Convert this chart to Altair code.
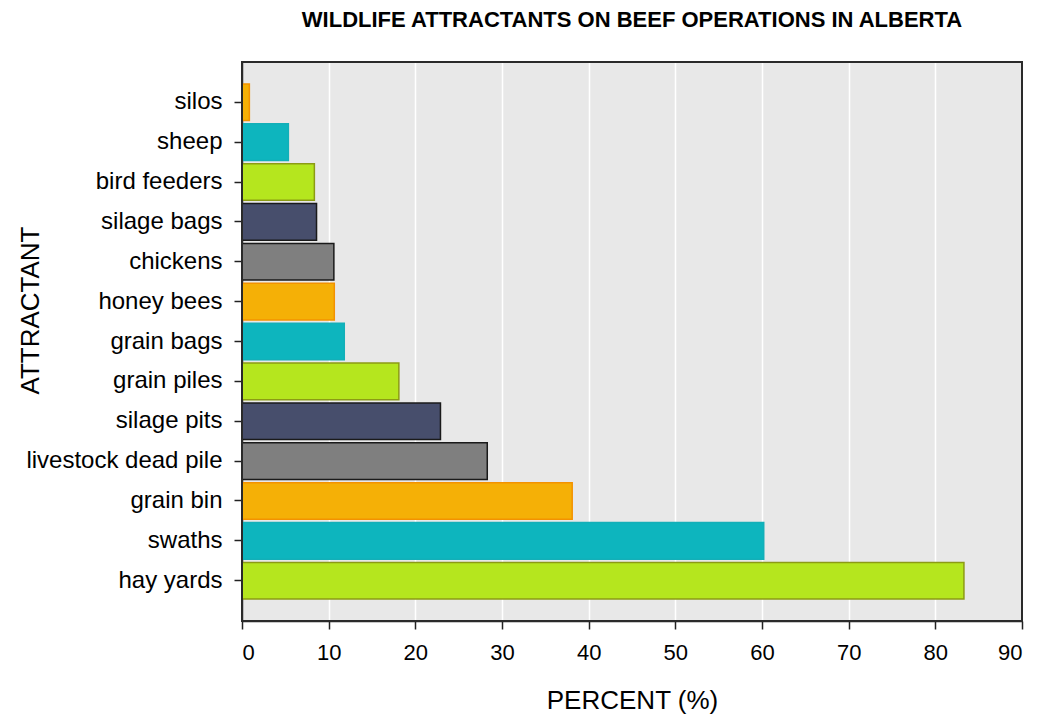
import altair as alt
import pandas as pd

TITLE = "WILDLIFE ATTRACTANTS ON BEEF OPERATIONS IN ALBERTA"
categories = ["silos", "sheep", "bird feeders", "silage bags", "chickens", "honey bees",
              "grain bags", "grain piles", "silage pits", "livestock dead pile",
              "grain bin", "swaths", "hay yards"]
percent = [0.85, 5.35, 8.35, 8.6, 10.6, 10.65, 11.8, 18.1, 22.9, 28.3, 38.1, 60.2, 83.3]
fills = ["#F5B006", "#0DB5BE", "#B5E61E", "#474E6C", "#7F7F7F",
         "#F5B006", "#0DB5BE", "#B5E61E", "#474E6C", "#7F7F7F",
         "#F5B006", "#0DB5BE", "#B5E61E"]
strokes = ["#F39200", "#13AFB8", "#8C9B14", "#1A1A1A", "#1A1A1A",
           "#F39200", "#13AFB8", "#8C9B14", "#1A1A1A", "#1A1A1A",
           "#F39200", "#13AFB8", "#8C9B14"]
x_ticks = [0, 10, 20, 30, 40, 50, 60, 70, 80, 90]

df = pd.DataFrame({"attractant": categories, "percent": percent,
                   "fill": fills, "stroke": strokes})
title_df = pd.DataFrame({"t": [TITLE]})

FONT = "Liberation Sans"
W, H = 780, 559

bars = alt.Chart(df).mark_bar(strokeWidth=1.5).encode(
    x=alt.X("percent:Q",
            scale=alt.Scale(domain=[0, 90], nice=False, zero=True),
            axis=alt.Axis(values=x_ticks, title="PERCENT (%)", grid=True,
                          gridColor="white", gridWidth=1.5,
                          domainColor="#222222", domainWidth=1.5,
                          tickColor="#222222", tickWidth=1.5, tickSize=8,
                          labelFont=FONT, labelFontSize=22, labelColor="black",
                          labelPadding=13,
                          titleFont=FONT, titleFontSize=26, titleFontWeight="normal",
                          titleColor="black", titleBaseline="alphabetic",
                          titleY=87)),
    y=alt.Y("attractant:N", sort=categories,
            scale=alt.Scale(paddingInner=0.08, paddingOuter=0.55),
            axis=alt.Axis(title="ATTRACTANT", grid=False,
                          domainColor="#222222", domainWidth=1.5,
                          tickColor="#222222", tickWidth=1.5, tickSize=8,
                          labelFont=FONT, labelFontSize=24, labelColor="black",
                          labelPadding=12, labelLimit=400,
                          titleFont=FONT, titleFontSize=26, titleFontWeight="normal",
                          titleColor="black", titleBaseline="alphabetic",
                          titleX=-204, titleY=248, titleAngle=270)),
    color=alt.Color("fill:N", scale=None),
    stroke=alt.Stroke("stroke:N", scale=None),
)

frame = alt.Chart(title_df).mark_rect(
    fill="transparent", stroke="#2A2A2A", strokeWidth=2
).encode(x=alt.value(0), x2=alt.value(W), y=alt.value(0), y2=alt.value(H))

title_text = alt.Chart(title_df).mark_text(
    font=FONT, fontSize=22, fontWeight="bold", color="black",
    align="center", baseline="alphabetic"
).encode(text="t:N", x=alt.value(W / 2), y=alt.value(-35))

chart = alt.layer(bars, frame, title_text).properties(
    width=W,
    height=H,
    background="white",
    autosize=alt.AutoSizeParams(type="none"),
    padding={"left": 234, "top": 54, "right": 9, "bottom": 100},
).configure_view(
    fill="#E8E8E8", stroke="#2A2A2A", strokeWidth=2
)

chart.save("out.html", embed_options={"renderer": "svg", "actions": False})
